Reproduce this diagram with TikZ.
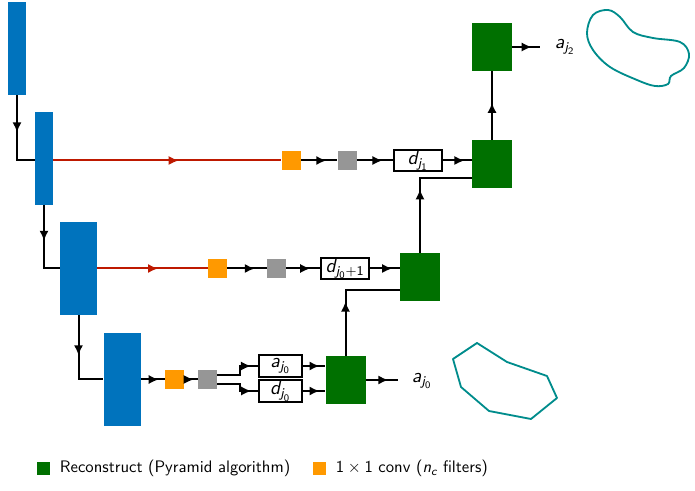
\documentclass[tikz,border=0pt]{standalone}
\usepackage{amsmath}
\usetikzlibrary{arrows.meta,positioning,calc,decorations.markings}
\definecolor{wblue}{RGB}{0,115,189}
\definecolor{wgreen}{RGB}{0,112,0}
\definecolor{worange}{RGB}{255,153,0}
\definecolor{wgray}{RGB}{150,150,150}
\definecolor{wred}{RGB}{190,25,0}
\definecolor{wteal}{RGB}{0,140,140}
\newcommand{\sv}[1]{\textit{#1}}

\begin{document}
\begin{tikzpicture}[
  x=0.6pt, y=-0.6pt, font=\sffamily,
  enc/.style={fill=wblue, minimum width=10.8pt, minimum height=55.8pt, inner sep=0pt},
  encw/.style={enc, minimum width=22.2pt},
  conv/.style={fill=worange, minimum size=11.4pt, inner sep=0pt},
  pool/.style={fill=wgray, minimum size=11.4pt, inner sep=0pt},
  recon/.style={fill=wgreen, minimum width=24pt, minimum height=28.8pt, inner sep=0pt},
  coef/.style={draw, line width=0.7pt, minimum width=28.8pt, minimum height=12.6pt,
               inner sep=0pt, font=\sffamily\large},
  arr/.style={line width=1.2pt, postaction={decorate},
    decoration={markings, mark=at position #1 with {\arrow{Latex[length=6pt,width=5.5pt]}}}},
  arr/.default=0.7,
  redarr/.style={arr=#1, draw=wred},
  redarr/.default=0.55,
  outline/.style={draw=wteal, line width=1.1pt},
]
  \useasboundingbox (0,0) rectangle (695,491);

  % encoder blocks
  \node[enc]  (b1) at (17,48.5) {};
  \node[enc]  (b2) at (44,158.5) {};
  \node[encw] (b3) at (78.5,268.5) {};
  \node[encw] (b4) at (122,379.5) {};

  \draw[arr=0.45] (b1.south) |- (b2.west |- 0,160);
  \draw[arr=0.45] (b2.south) |- (b3.west |- 0,268.5);
  \draw[arr=0.45] (b3.south) |- (b4.west |- 0,379.5);

  % top branch
  \node[conv]  (o1) at (291,160.5) {};
  \node[pool]  (g1) at (347,160.5) {};
  \node[coef]  (dj1) at (418,160.5) {$\sv{d}_{\sv{j}_{\mathsf{1}}}$};
  \node[recon] (G1) at (492,164) {};
  \node[recon] (G0) at (492,47) {};
  \coordinate (out0) at (540,47);
  \node[anchor=west, font=\sffamily\large] (aj2) at (549,47) {$\sv{a}_{\sv{j}_{\mathsf{2}}}$};

  \draw[redarr] (b2.east |- o1.west) -- (o1.west);
  \draw[arr] (o1.east) -- (g1.west);
  \draw[arr] (g1.east) -- (dj1.west);
  \draw[arr=0.75] (dj1.east) -- (dj1.east -| G1.west);
  \draw[arr=0.54] (G1.north) -- (G0.south);
  \draw[arr] (G0.east |- out0) -- (out0);

  % middle branch
  \node[conv]  (o2) at (217.5,268.5) {};
  \node[pool]  (g2) at (276.5,268.5) {};
  \node[coef]  (dj0p) at (345,268.5) {$\sv{d}_{\sv{j}_{\mathsf{0}}+\mathsf{1}}$};
  \node[recon] (G2) at (420,277) {};
  \coordinate (in1) at (472,178);

  \draw[redarr] (b3.east |- o2.west) -- (o2.west);
  \draw[arr] (o2.east) -- (g2.west);
  \draw[arr] (g2.east) -- (dj0p.west);
  \draw[arr=0.75] (dj0p.east) -- (dj0p.east -| G2.west);
  \draw[arr=0.5] (G2.north) |- (in1);

  % bottom branch
  \node[conv]  (o3) at (174.5,379.5) {};
  \node[pool]  (g3) at (207.5,379.5) {};
  \node[coef, minimum width=25.8pt, minimum height=13.2pt] (aj0) at (280.5,366) {$\sv{a}_{\sv{j}_{\mathsf{0}}}$};
  \node[coef, minimum width=25.8pt, minimum height=13.2pt] (dj0) at (280.5,391) {$\sv{d}_{\sv{j}_{\mathsf{0}}}$};
  \node[recon] (G3) at (345.5,380) {};
  \coordinate (in2) at (400,290);
  \coordinate (out3) at (398,380);
  \node[anchor=west, font=\sffamily\large] (aj0out) at (406,381) {$\sv{a}_{\sv{j}_{\mathsf{0}}}$};

  \draw[arr=0.75] (b4.east |- o3.west) -- (o3.west);
  \draw[arr] (o3.east) -- (g3.west);
  \draw[arr=0.85] ([yshift=2.7pt]g3.east) -- ++(23,0) |- (aj0.west);
  \draw[arr=0.85] ([yshift=-2.7pt]g3.east) -- ++(23,0) |- (dj0.west);
  \draw[arr=0.75] (aj0.east) -- (aj0.east -| G3.west);
  \draw[arr=0.75] (dj0.east) -- (dj0.east -| G3.west);
  \draw[arr=0.45] (G3.north) |- (in2);
  \draw[arr] (G3.east) -- (out3);

  % segmentation shapes
  \draw[outline] plot[smooth cycle, tension=0.6] coordinates {
    (587,33) (593,15) (608,10) (620,17) (633,32) (653,38) (680,42)
    (689,54) (684,68) (671,76) (668,84) (655,86) (637,80) (610,67) (593,50)};
  \draw[outline, line join=round] (477,343) -- (453,359) -- (461,387) -- (489,411)
    -- (531,419) -- (557,398) -- (547,376) -- (507,362) -- cycle;

  % legend
  \node[fill=wgreen, minimum size=7.8pt, inner sep=0pt] (lg) at (43.5,468.5) {};
  \node[anchor=west] (lgt) at (54,468.5) {Reconstruct (Pyramid algorithm)};
  \node[fill=worange, minimum size=7.8pt, inner sep=0pt] (lo) at (319.5,468.5) {};
  \node[anchor=west] (lot) at (330,468.5) {$\mathsf{1}\times\mathsf{1}$ conv ($\sv{n}_{\sv{c}}$ filters)};
\end{tikzpicture}
\end{document}
